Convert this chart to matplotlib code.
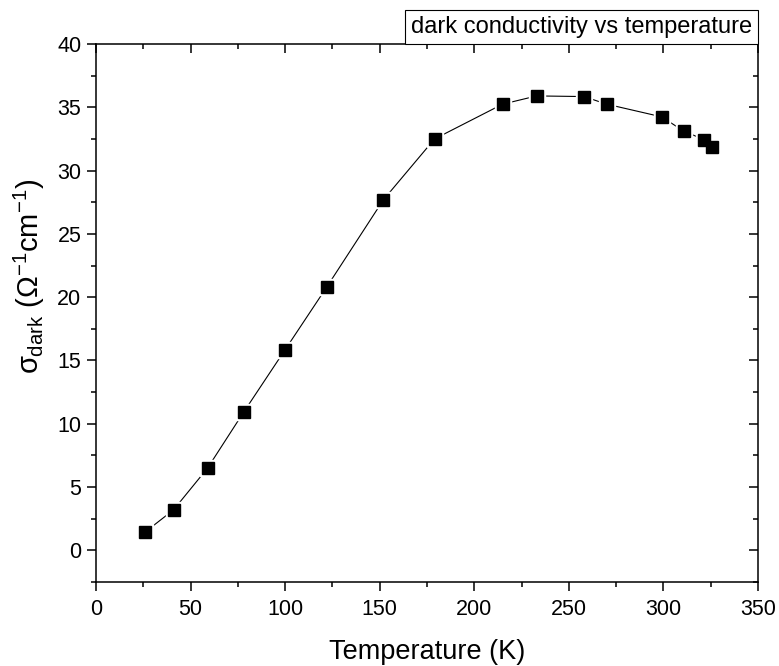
import matplotlib
matplotlib.use("Agg")
import matplotlib.pyplot as plt
import matplotlib.transforms as mtransforms
from matplotlib.ticker import MultipleLocator

plt.rcParams['font.family'] = ['Liberation Sans', 'DejaVu Sans']
plt.rcParams['mathtext.fontset'] = 'custom'
plt.rcParams['mathtext.rm'] = 'Liberation Sans'
plt.rcParams['mathtext.it'] = 'Liberation Sans'

# dark conductivity data
temperature = [26, 41, 59, 78, 100, 122, 152, 179, 215, 233, 258, 270, 299, 311, 321.5, 325.5]
sigma_dark = [1.45, 3.2, 6.5, 10.9, 15.85, 20.8, 27.7, 32.5, 35.25, 35.9, 35.85, 35.25,
              34.25, 33.1, 32.45, 31.85]

fig = plt.figure(figsize=(7.79, 6.66), dpi=100)
ax = fig.add_axes([0.1232, 0.1261, 0.8498, 0.8078])

ax.plot(temperature, sigma_dark, color='black', linewidth=0.8, zorder=2)
# white squares under the markers give the small gap between line and symbol
ax.plot(temperature, sigma_dark, linestyle='none', marker='s', markersize=11.5,
        color='white', zorder=3)
ax.plot(temperature, sigma_dark, linestyle='none', marker='s', markersize=8.5,
        color='black', zorder=4)

ax.set_xlim(0, 350)
ax.set_ylim(-2.5, 40)
ax.xaxis.set_major_locator(MultipleLocator(50))
ax.xaxis.set_minor_locator(MultipleLocator(25))
ax.yaxis.set_major_locator(MultipleLocator(5))
ax.yaxis.set_minor_locator(MultipleLocator(2.5))

for s in ax.spines.values():
    s.set_linewidth(1.1)

ax.tick_params(which='both', direction='out', width=1.1, labelsize=15.5)
ax.tick_params(which='major', length=6.5)
ax.tick_params(which='minor', length=3.5)
ax.tick_params(axis='x', pad=6)
ax.tick_params(axis='y', pad=4)
ax.tick_params(which='both', top=True, right=True)
# top/right ticks point inward like the Origin original
for t in ax.xaxis.get_major_ticks() + ax.xaxis.get_minor_ticks():
    t.tick2line.set_marker(3)
for t in ax.yaxis.get_major_ticks() + ax.yaxis.get_minor_ticks():
    t.tick2line.set_marker(0)

ax.set_xlabel('Temperature (K)', fontsize=19.5)
ax.set_ylabel(r'$\sigma_{\mathrm{dark}}$ ($\Omega^{-1}$cm$^{-1}$)', fontsize=21)
ax.xaxis.set_label_coords(0.5, -0.106)
ax.yaxis.set_label_coords(-0.074, 0.569)

# title box sits on the top-right corner of the frame
box_tr = mtransforms.offset_copy(ax.transAxes, fig=fig, x=-6, y=6, units='dots')
ax.text(1.0, 1.0, 'dark conductivity vs temperature', transform=box_tr,
        ha='right', va='bottom', fontsize=17,
        bbox=dict(boxstyle='square,pad=0.25', facecolor='white', edgecolor='black',
                  linewidth=0.8))

fig.savefig('out.png', dpi=100)
